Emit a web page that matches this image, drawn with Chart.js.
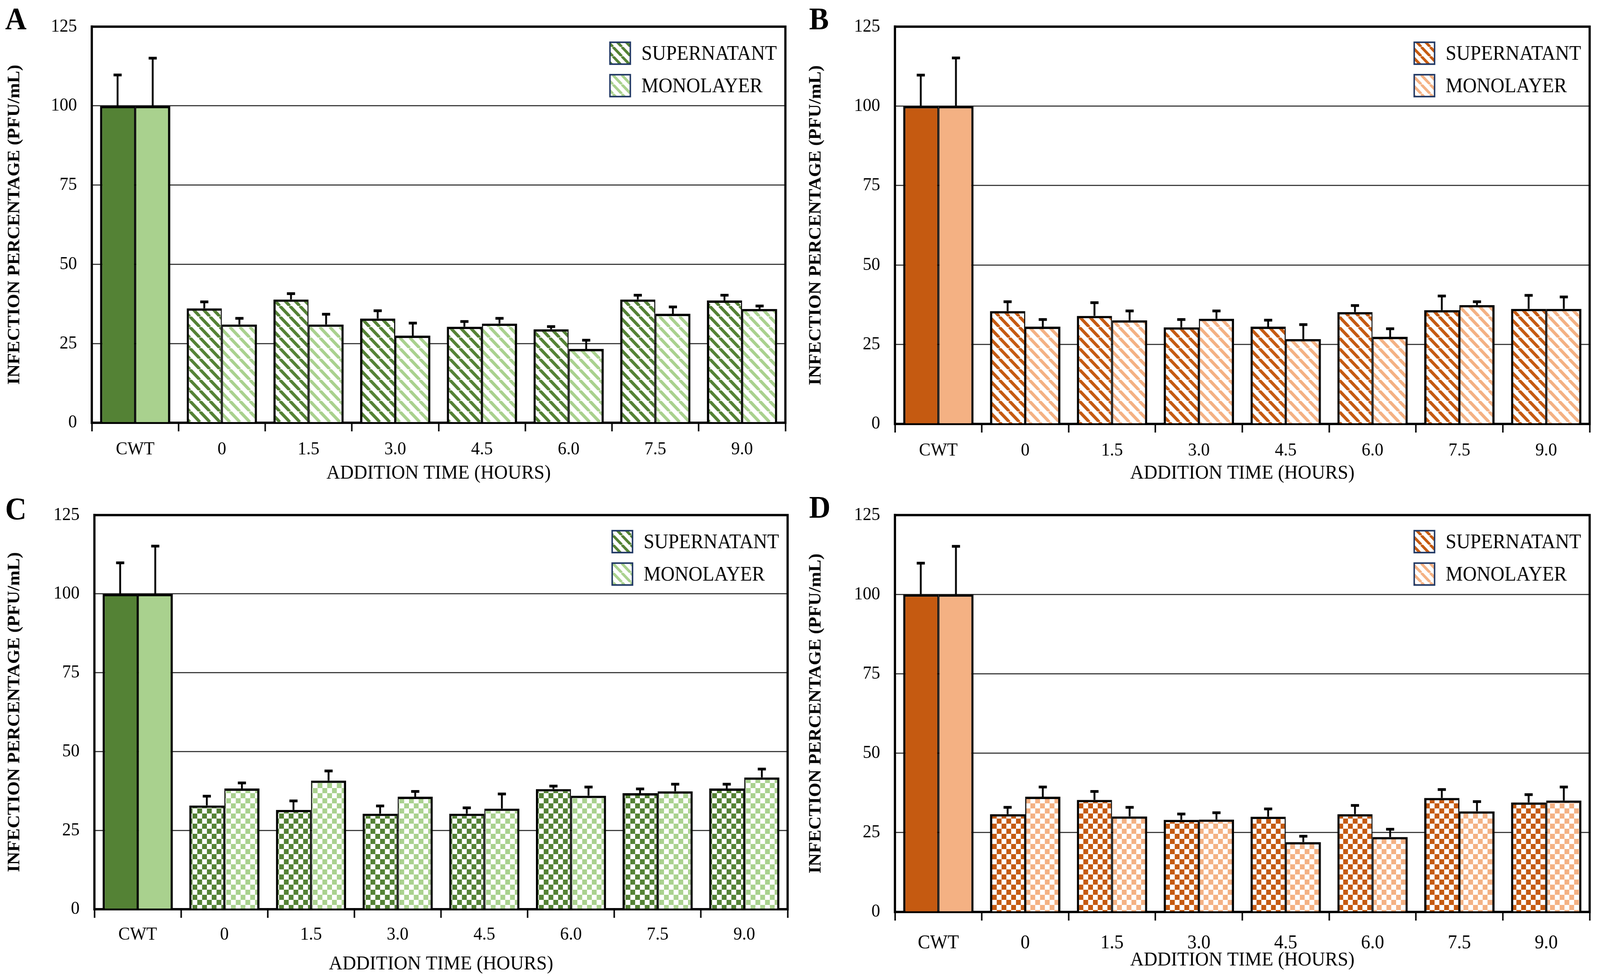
<!DOCTYPE html>
<html>
<head>
<meta charset="utf-8">
<script src="https://cdn.jsdelivr.net/npm/chart.js@4.4.1/dist/chart.umd.min.js"></script>
<style>
  html, body { margin: 0; background: #fff; overflow: hidden; }
  #page { width: 4323px; height: 2503px; position: relative; transform-origin: 0 0; }
  .panel { position: absolute; }
  .letter { position: absolute; font-family: "Liberation Serif", serif; font-weight: bold; font-size: 80px; line-height: 1; color: #000; }
</style>
</head>
<body>
<div id="page">
<div class="panel" style="left:0;top:0;width:2160px;height:1250px"><canvas id="chartA"></canvas></div>
<div class="panel" style="left:2160px;top:0;width:2163px;height:1250px"><canvas id="chartB"></canvas></div>
<div class="panel" style="left:0;top:1250px;width:2160px;height:1253px"><canvas id="chartC"></canvas></div>
<div class="panel" style="left:2160px;top:1250px;width:2163px;height:1253px"><canvas id="chartD"></canvas></div>
<div class="letter" style="left:14px;top:8px">A</div>
<div class="letter" style="left:2186px;top:8px">B</div>
<div class="letter" style="left:14px;top:1262px">C</div>
<div class="letter" style="left:2186px;top:1258px">D</div>
</div>
<script>
// categories and values
const categories = ["CWT", "0", "1.5", "3.0", "4.5", "6.0", "7.5", "9.0"];
const seriesNames = ["SUPERNATANT", "MONOLAYER"];
const yTicks = [0, 25, 50, 75, 100, 125];

// panel A
const aSup = [100, 36.1, 38.9, 32.9, 30.3, 29.5, 38.9, 38.6];
const aSupErr = [10.0, 2.3, 2.1, 2.7, 1.9, 1.1, 1.6, 1.9];
const aMono = [100, 31.0, 31.0, 27.5, 31.3, 23.3, 34.4, 35.9];
const aMonoErr = [15.3, 2.2, 3.5, 4.2, 1.9, 3.0, 2.4, 1.2];
// panel B
const bSup = [100, 35.5, 34.0, 30.4, 30.6, 35.2, 35.8, 36.2];
const bSupErr = [10.0, 3.2, 4.4, 2.7, 2.3, 2.3, 4.7, 4.5];
const bMono = [100, 30.6, 32.6, 33.1, 26.7, 27.4, 37.4, 36.2];
const bMonoErr = [15.4, 2.5, 3.2, 2.7, 4.8, 2.8, 1.3, 4.0];
// panel C
const cSup = [100, 32.9, 31.5, 30.3, 30.3, 38.1, 36.8, 38.3];
const cSupErr = [10.1, 3.2, 3.1, 2.7, 2.1, 1.2, 1.6, 1.6];
const cMono = [100, 38.3, 40.8, 35.7, 31.9, 36.0, 37.4, 41.8];
const cMonoErr = [15.4, 2.0, 3.3, 1.9, 4.9, 3.0, 2.5, 2.9];
// panel D
const dSup = [100, 30.8, 35.3, 29.0, 30.0, 30.8, 35.9, 34.5];
const dSupErr = [10.1, 2.4, 2.9, 2.1, 2.7, 3.0, 2.9, 2.7];
const dMono = [100, 36.3, 30.1, 29.1, 22.0, 23.6, 31.7, 35.1];
const dMonoErr = [15.4, 3.3, 3.1, 2.4, 2.1, 2.7, 3.3, 4.5];

const GREEN = ["#548235", "#a9d18e"];
const ORANGE = ["#c55a11", "#f4b183"];
const FONT = "'Liberation Serif', serif";

// the window is narrower than the figure, so stretch the 4323x2503 page onto it
const sx = window.innerWidth / 4323, sy = window.innerHeight / 2503;
document.getElementById("page").style.transform = "scale(" + sx + "," + sy + ")";

function stripes(color, s, w) {
  const c = document.createElement("canvas");
  c.width = s; c.height = s;
  const g = c.getContext("2d");
  g.fillStyle = "#fff";
  g.fillRect(0, 0, s, s);
  g.strokeStyle = color;
  g.lineWidth = w;
  for (let k = -1; k <= 1; k++) {
    g.beginPath();
    g.moveTo(k * s, 0);
    g.lineTo(k * s + s, s);
    g.stroke();
  }
  return g.createPattern(c, "repeat");
}

function checks(color, cell) {
  const c = document.createElement("canvas");
  c.width = cell * 2; c.height = cell * 2;
  const g = c.getContext("2d");
  g.fillStyle = "#fff";
  g.fillRect(0, 0, cell * 2, cell * 2);
  g.fillStyle = color;
  g.fillRect(0, 0, cell, cell);
  g.fillRect(cell, cell, cell, cell);
  return g.createPattern(c, "repeat");
}

const errorBars = {
  id: "errorBars",
  afterDatasetsDraw(chart) {
    const ctx = chart.ctx, y = chart.scales.y;
    chart.data.datasets.forEach((ds, i) => {
      chart.getDatasetMeta(i).data.forEach((bar, j) => {
        const top = y.getPixelForValue(ds.data[j] + ds.errors[j]);
        ctx.save();
        ctx.strokeStyle = "#000";
        ctx.lineWidth = 5;
        ctx.beginPath();
        ctx.moveTo(bar.x, bar.y);
        ctx.lineTo(bar.x, top);
        ctx.stroke();
        ctx.lineWidth = 7;
        ctx.beginPath();
        ctx.moveTo(bar.x - 11, top + 2);
        ctx.lineTo(bar.x + 11, top + 2);
        ctx.stroke();
        ctx.restore();
      });
    });
  }
};

const frame = {
  id: "frame",
  afterDraw(chart) {
    const ctx = chart.ctx, a = chart.chartArea;
    ctx.save();
    ctx.strokeStyle = "#000";
    ctx.lineWidth = 6;
    ctx.beginPath();
    ctx.moveTo(a.left - 3, a.top);
    ctx.lineTo(a.right, a.top);
    ctx.lineTo(a.right, a.bottom + 3);
    ctx.stroke();
    ctx.restore();
  }
};

const boxLegend = {
  id: "boxLegend",
  afterDraw(chart, args, o) {
    const ctx = chart.ctx, a = chart.chartArea;
    ctx.save();
    o.fills.forEach((fill, i) => {
      const x = a.right - 474, y = a.top + 40 + i * 83;
      ctx.fillStyle = fill;
      ctx.fillRect(x, y, 55, 56);
      ctx.strokeStyle = "#203864";
      ctx.lineWidth = 4;
      ctx.strokeRect(x, y, 55, 56);
      ctx.fillStyle = "#000";
      ctx.font = "52px " + FONT;
      ctx.textBaseline = "middle";
      ctx.fillText(seriesNames[i], x + 85, y + 31);
    });
    ctx.restore();
  }
};

function makeChart(id, sup, supErr, mono, monoErr, p) {
  const fillFn = p.checker ? (c) => checks(c, 13) : (c) => stripes(c, 27, 8);
  const supFill = categories.map((c, i) => i === 0 ? p.colors[0] : fillFn(p.colors[0]));
  const monoFill = categories.map((c, i) => i === 0 ? p.colors[1] : fillFn(p.colors[1]));
  new Chart(document.getElementById(id), {
    type: "bar",
    data: {
      labels: categories,
      datasets: [
        { label: seriesNames[0], data: sup, errors: supErr, backgroundColor: supFill,
          borderColor: "#000", borderWidth: { top: 6, left: 6, right: 3, bottom: 0 } },
        { label: seriesNames[1], data: mono, errors: monoErr, backgroundColor: monoFill,
          borderColor: "#000", borderWidth: { top: 6, left: 3, right: 6, bottom: 0 } }
      ]
    },
    plugins: [errorBars, frame, boxLegend],
    options: {
      responsive: true,
      maintainAspectRatio: false,
      devicePixelRatio: 1,
      animation: false,
      layout: { padding: { left: 0, top: p.top, right: p.right, bottom: 0 } },
      datasets: { bar: { categoryPercentage: 0.81, barPercentage: 1.0 } },
      plugins: {
        legend: { display: false },
        tooltip: { enabled: false },
        boxLegend: { fills: [stripes(p.colors[0], 24, 7), stripes(p.colors[1], 24, 7)] }
      },
      scales: {
        x: {
          afterFit: (s) => { s.height = p.xh; },
          grid: { offset: true, drawOnChartArea: false, drawTicks: true, tickLength: 22, tickWidth: 4, tickColor: "#000" },
          border: { color: "#000", width: 6 },
          ticks: { color: "#000", padding: p.xpad, font: { family: FONT, size: p.xsize } },
          title: { display: true, text: "ADDITION TIME (HOURS)", color: "#000",
                   font: { family: FONT, size: 51 }, padding: { top: 0, bottom: p.tpad } }
        },
        y: {
          min: 0, max: 125,
          afterFit: (s) => { s.width = p.left; },
          afterBuildTicks: (s) => { s.ticks = yTicks.map(v => ({ value: v })); },
          grid: { color: "#404040", lineWidth: 3, drawTicks: false },
          border: { color: "#000", width: 6 },
          ticks: { color: "#000", padding: 40, font: { family: FONT, size: 47 } },
          title: { display: true, text: "INFECTION PERCENTAGE (PFU/mL)", color: "#000",
                   font: { family: FONT, size: 47, weight: "bold" }, padding: { top: p.ypad, bottom: 0 } }
        }
      }
    }
  });
}

makeChart("chartA", aSup, aSupErr, aMono, aMonoErr,
  { colors: GREEN, checker: false, left: 248, right: 38, top: 61, xh: 168, xpad: 18, xsize: 47, tpad: 8, ypad: 12 });
makeChart("chartB", bSup, bSupErr, bMono, bMonoErr,
  { colors: ORANGE, checker: false, left: 258, right: 28, top: 61, xh: 165, xpad: 18, xsize: 47, tpad: 8, ypad: 17 });
makeChart("chartC", cSup, cSupErr, cMono, cMonoErr,
  { colors: GREEN, checker: true, left: 255, right: 32, top: 55, xh: 176, xpad: 15, xsize: 47, tpad: 5, ypad: 12 });
makeChart("chartD", dSup, dSupErr, dMono, dMonoErr,
  { colors: ORANGE, checker: true, left: 258, right: 28, top: 42, xh: 169, xpad: 28, xsize: 50, tpad: 15, ypad: 17 });
</script>
</body>
</html>
